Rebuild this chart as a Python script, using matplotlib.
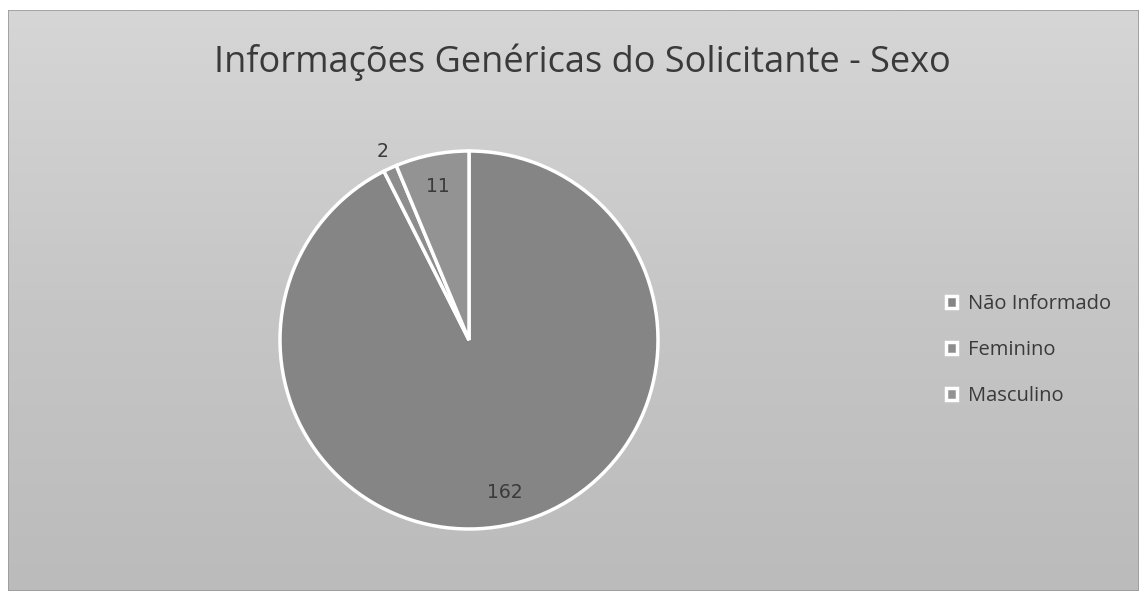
import numpy as np
import matplotlib.pyplot as plt
from matplotlib.patches import Rectangle
from matplotlib.colors import LinearSegmentedColormap

categories = ["Não Informado", "Feminino", "Masculino"]
values = [162, 2, 11]
title = "Informações Genéricas do Solicitante - Sexo"

W, H = 1139, 591
fig = plt.figure(figsize=(W / 100, H / 100), dpi=100, facecolor="white")

# chart background (scanned grey panel)
bg = fig.add_axes([8 / W, 0, 1 - 8 / W, 1 - 10 / H])
grad = np.linspace(0, 1, 256).reshape(-1, 1)
bg.imshow(grad, aspect="auto",
          cmap=LinearSegmentedColormap.from_list("g", ["#d6d6d6", "#c6c6c6", "#bbbbbb"]),
          extent=[0, 1, 0, 1], origin="upper")
bg.set_xlim(0, 1)
bg.set_ylim(0, 1)
bg.axis("off")
bg.add_patch(Rectangle((0, 0), 1, 1, fill=False, edgecolor="#9a9a9a", lw=1.2,
                       transform=bg.transAxes))

fig.text(582 / W, 1 - 72 / H, title, ha="center", va="baseline",
         fontsize=26, color="#3a3a3a", family=["Open Sans", "DejaVu Sans"])

cx, cy, r = 469, 340, 189
ax = fig.add_axes([(cx - r) / W, (H - cy - r) / H, 2 * r / W, 2 * r / H])
colors = ["#858585", "#8d8d8d", "#939393"]
wedges, texts, autotexts = ax.pie(
    values, colors=colors, startangle=90, counterclock=False,
    wedgeprops=dict(edgecolor="white", linewidth=2.5),
    autopct=lambda p: f"{int(round(p * sum(values) / 100))}", pctdistance=0.83,
    textprops=dict(fontsize=13.5, color="#3a3a3a"))
# move small-slice label outside
w = wedges[1]
ang = np.deg2rad((w.theta1 + w.theta2) / 2)
autotexts[1].set_position((1.1 * np.cos(ang), 1.1 * np.sin(ang)))
ax.set_xlim(-1, 1)
ax.set_ylim(-1, 1)
ax.set_aspect("equal")

leg = fig.legend(wedges, categories, loc="upper left",
                 bbox_to_anchor=(928 / W, 1 - 276 / H), frameon=False,
                 handlelength=0.55, handleheight=0.55,
                 handletextpad=0.55, labelspacing=1.3,
                 prop=dict(family=["Open Sans", "DejaVu Sans"], size=14.5))
for t in leg.get_texts():
    t.set_color("#3a3a3a")

fig.savefig("out.png", dpi=100, facecolor="white")
